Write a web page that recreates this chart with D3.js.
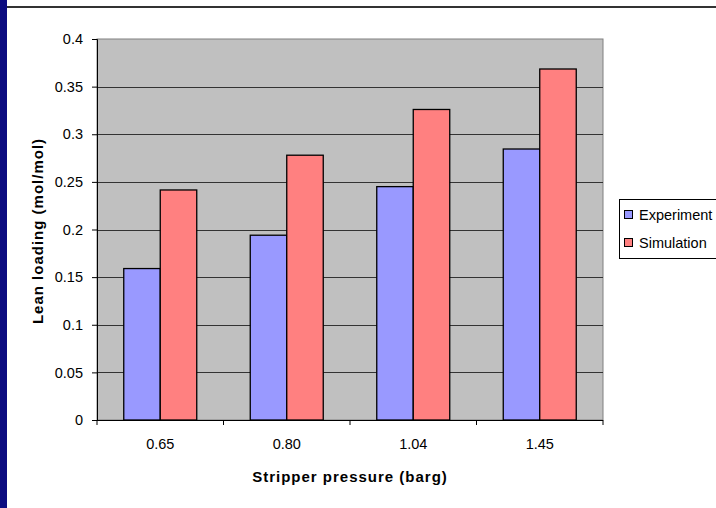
<!doctype HTML>
<html>
<head>
    <style>
        body { margin: 0; background: white; }
        text { font-family: "Liberation Sans", Arial, sans-serif; }
    </style>
    <script src="https://d3js.org/d3.v7.min.js"></script>
</head>
<body>
<script>
    var pressures = ["0.65", "0.80", "1.04", "1.45"];
    var seriesNames = ["Experiment", "Simulation"];
    var experiment = [0.159, 0.194, 0.245, 0.2845];
    var simulation = [0.2415, 0.278, 0.326, 0.3685];
    var yTicks = [0, 0.05, 0.1, 0.15, 0.2, 0.25, 0.3, 0.35, 0.4];
    var colors = ["#9999ff", "#ff8080"];

    var svg = d3.select("body").append("svg")
        .attr("width", 716)
        .attr("height", 508)

    // slide frame: navy strip on the left and a line on top
    svg.append("rect").attr("x", 0).attr("y", 0).attr("width", 7).attr("height", 508).attr("fill", "#0c0c80")
    svg.append("line").attr("x1", 7).attr("x2", 716).attr("y1", 7).attr("y2", 7)
        .attr("stroke", "#333").attr("stroke-width", 2)

    var plotLeft = 97, plotRight = 603, plotTop = 39, plotBottom = 420;

    var x0 = d3.scaleBand().domain(pressures).range([plotLeft, plotRight]).padding(0);
    var x1 = d3.scaleBand().domain(seriesNames).range([0, x0.bandwidth()]).paddingInner(0).paddingOuter(0.733);
    var y = d3.scaleLinear().domain([0, 0.4]).range([plotBottom, plotTop]);

    // plot area
    svg.append("rect")
        .attr("x", plotLeft).attr("y", plotTop)
        .attr("width", plotRight - plotLeft).attr("height", plotBottom - plotTop)
        .attr("fill", "#c0c0c0").attr("stroke", "#808080").attr("stroke-width", 1)

    svg.append("g").selectAll("line")
        .data(yTicks.filter(function(d) { return d > 0 && d < 0.4; }))
        .enter().append("line")
        .attr("x1", plotLeft).attr("x2", plotRight)
        .attr("y1", function(d) { return Math.round(y(d)) + 0.5; })
        .attr("y2", function(d) { return Math.round(y(d)) + 0.5; })
        .attr("stroke", "#333")

    // bars
    var rows = pressures.map(function(p, i) {
        return { p: p, values: [experiment[i], simulation[i]] };
    });
    var groups = svg.append("g").selectAll("g")
        .data(rows)
        .enter().append("g")
        .attr("transform", function(d) { return "translate(" + x0(d.p) + ",0)"; })
    groups.selectAll("rect")
        .data(function(d) { return d.values.map(function(v, k) { return { s: seriesNames[k], v: v, k: k }; }); })
        .enter().append("rect")
        .attr("x", function(d) { return x1(d.s); })
        .attr("y", function(d) { return y(d.v); })
        .attr("width", x1.bandwidth())
        .attr("height", function(d) { return plotBottom - y(d.v); })
        .attr("fill", function(d) { return colors[d.k]; })
        .attr("stroke", "#000").attr("stroke-width", 1.3)

    // axes
    var yAxis = svg.append("g")
        .attr("transform", "translate(" + plotLeft + ",0)")
        .call(d3.axisLeft(y).tickValues(yTicks).tickSize(5).tickPadding(9).tickFormat(function(d) { return d3.format("")(+d.toFixed(2)); }))
    yAxis.selectAll("text").attr("font-size", "14.5px").attr("fill", "#000").style("font-family", "Liberation Sans, Arial")
    yAxis.select(".domain").attr("stroke", "#000")

    var xAxis = svg.append("g")
        .attr("transform", "translate(0," + plotBottom + ")")
        .call(d3.axisBottom(x0).tickSize(0).tickPadding(19))
    xAxis.selectAll("text").attr("font-size", "14.5px").attr("fill", "#000").style("font-family", "Liberation Sans, Arial")
    xAxis.select(".domain").attr("stroke", "#000").attr("d", "M" + plotLeft + ",0.5H" + plotRight)
    // tick marks between categories
    xAxis.selectAll(".sep")
        .data(d3.range(pressures.length + 1))
        .enter().append("line")
        .attr("x1", function(i) { return plotLeft + i * x0.step(); })
        .attr("x2", function(i) { return plotLeft + i * x0.step(); })
        .attr("y1", 0).attr("y2", 5)
        .attr("stroke", "#000")

    // axis titles
    svg.append("text")
        .attr("x", 350).attr("y", 482)
        .attr("text-anchor", "middle")
        .attr("font-size", "15px").attr("font-weight", "bold")
        .style("letter-spacing", "1px")
        .text("Stripper pressure (barg)")

    svg.append("text")
        .attr("transform", "translate(43,231) rotate(-90)")
        .attr("text-anchor", "middle")
        .attr("font-size", "15px").attr("font-weight", "bold")
        .style("letter-spacing", "1px")
        .text("Lean loading (mol/mol)")

    // legend
    svg.append("rect")
        .attr("x", 619.5).attr("y", 199.5).attr("width", 110).attr("height", 59)
        .attr("fill", "white").attr("stroke", "#000")
    var legend = svg.append("g").selectAll("g")
        .data(seriesNames)
        .enter().append("g")
        .attr("transform", function(d, i) { return "translate(624," + (215 + i * 28) + ")"; })
    legend.append("rect")
        .attr("x", 0.5).attr("y", -4.5).attr("width", 8).attr("height", 8)
        .attr("fill", function(d, i) { return colors[i]; })
        .attr("stroke", "#000")
    legend.append("text")
        .attr("x", 15).attr("y", 5)
        .attr("font-size", "14.5px")
        .text(function(d) { return d; })
</script>
</body>
</html>
